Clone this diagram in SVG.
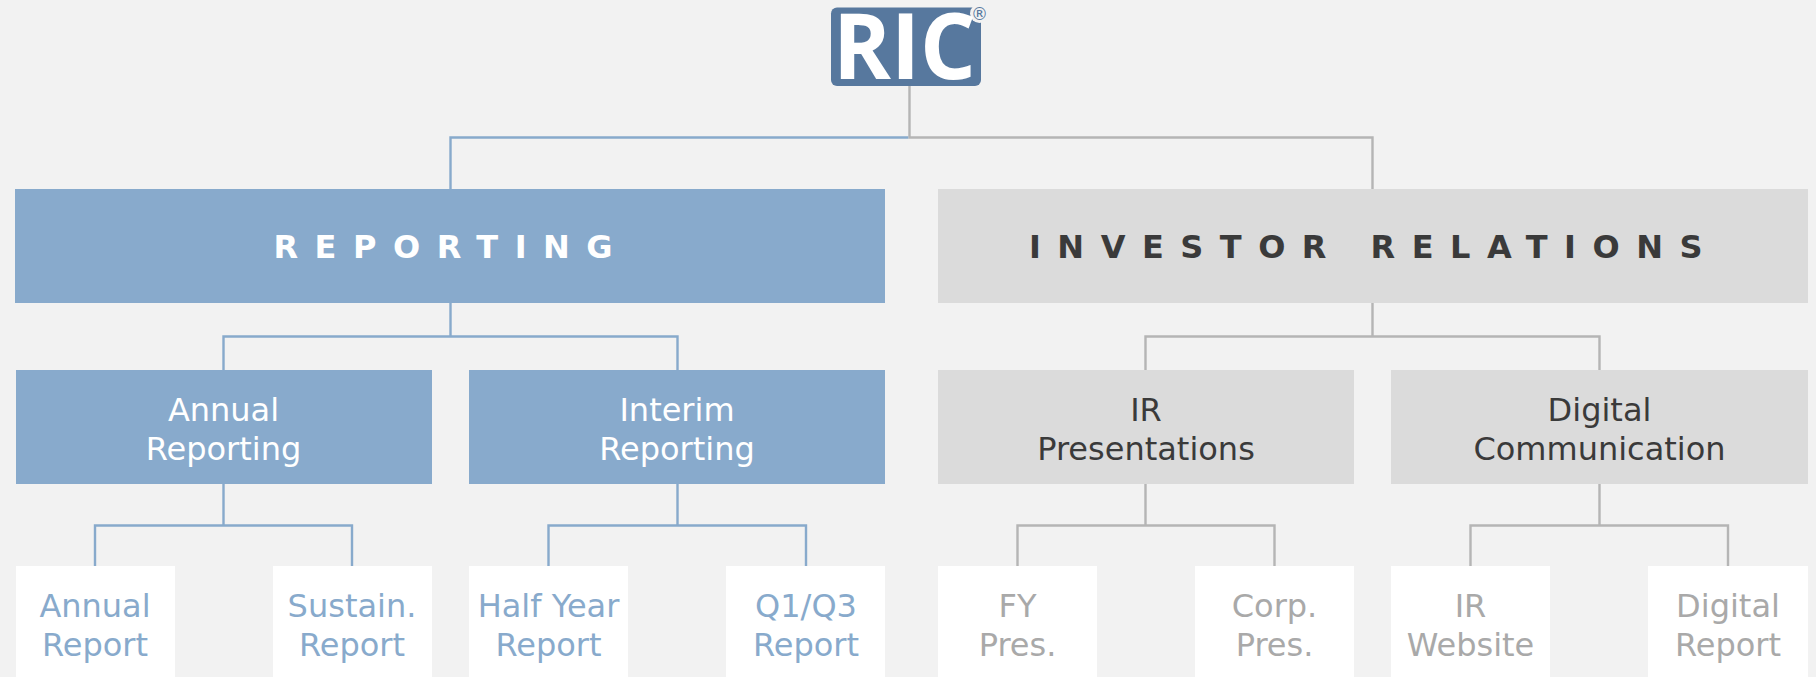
<svg xmlns="http://www.w3.org/2000/svg" width="1816" height="677" viewBox="0 0 1816 677">
<style>
text{font-family:"DejaVu Sans",Verdana,sans-serif;text-anchor:middle;font-size:32px}
.c{fill:none;stroke-width:2.4}
.cb{stroke:#88aacc}.cg{stroke:#b5b5b5}
.b{fill:#88aacc}.g{fill:#dbdbdb}.w{fill:#fff}
.tw{fill:#fff}.td{fill:#3a3a3a}.tb{fill:#88aacc}.tg{fill:#a9a9a9}
.h{font-weight:bold;letter-spacing:16.5px}
</style>
<rect width="1816" height="677" fill="#f2f2f2"/>
<g id="connectors">
<path class="c cg" d="M909.500 86V137.500H1372.500V189"/>
<path class="c cb" d="M908.300 137.500H450.500V189"/>
<path class="c cb" d="M450.500 303V336.500H223.500V370M450.500 336.500H677.500V370"/>
<path class="c cg" d="M1372.500 303V336.500H1145.500V370M1372.500 336.500H1599.500V370"/>
<path class="c cb" d="M223.500 484V525.500H95V566M223.500 525.500H352V566"/>
<path class="c cb" d="M677.500 484V525.500H548.500V566M677.500 525.500H806V566"/>
<path class="c cg" d="M1145.500 484V525.500H1017.500V566M1145.500 525.500H1274.500V566"/>
<path class="c cg" d="M1599.500 484V525.500H1470.500V566M1599.500 525.500H1728V566"/>
</g>
<g id="logo">
<rect x="831" y="7.500" width="150" height="78.500" rx="6" fill="#57789e"/>
<circle cx="979.500" cy="13.500" r="9.500" fill="#f2f2f2"/>
<text x="904.500" y="79" textLength="143" lengthAdjust="spacingAndGlyphs" style="font-family:'Open Sans',sans-serif;font-weight:700;font-size:91px;fill:#fff">RIC</text>
<text x="979.500" y="20" style="font-size:17px;fill:#57789e">®</text>
</g>
<g id="reporting"><rect class="b" x="15" y="189" width="870" height="114"/><text class="h tw" x="451.300" y="257.500">REPORTING</text></g>
<g id="investor-relations"><rect class="g" x="938" y="189" width="870" height="114"/><text class="h td" x="1374" y="257.500">INVESTOR RELATIONS</text></g>
<g id="annual-reporting"><rect class="b" x="16" y="370" width="416" height="114"/><text class="tw" x="223.500" y="421">Annual</text><text class="tw" x="223.500" y="459.500">Reporting</text></g>
<g id="interim-reporting"><rect class="b" x="469" y="370" width="416" height="114"/><text class="tw" x="677" y="421">Interim</text><text class="tw" x="677" y="459.500">Reporting</text></g>
<g id="ir-presentations"><rect class="g" x="938" y="370" width="416" height="114"/><text class="td" x="1146" y="421">IR</text><text class="td" x="1146" y="459.500">Presentations</text></g>
<g id="digital-communication"><rect class="g" x="1391" y="370" width="417" height="114"/><text class="td" x="1599.500" y="421">Digital</text><text class="td" x="1599.500" y="459.500">Communication</text></g>
<g id="annual-report"><rect class="w" x="16" y="566" width="159" height="111"/><text class="tb" x="95" y="617">Annual</text><text class="tb" x="95" y="655.500">Report</text></g>
<g id="sustain-report"><rect class="w" x="273" y="566" width="159" height="111"/><text class="tb" x="352" y="617">Sustain.</text><text class="tb" x="352" y="655.500">Report</text></g>
<g id="half-year-report"><rect class="w" x="469" y="566" width="159" height="111"/><text class="tb" x="548.500" y="617">Half Year</text><text class="tb" x="548.500" y="655.500">Report</text></g>
<g id="q1q3-report"><rect class="w" x="726" y="566" width="159" height="111"/><text class="tb" x="806" y="617">Q1/Q3</text><text class="tb" x="806" y="655.500">Report</text></g>
<g id="fy-pres"><rect class="w" x="938" y="566" width="159" height="111"/><text class="tg" x="1017.500" y="617">FY</text><text class="tg" x="1017.500" y="655.500">Pres.</text></g>
<g id="corp-pres"><rect class="w" x="1195" y="566" width="159" height="111"/><text class="tg" x="1274.500" y="617">Corp.</text><text class="tg" x="1274.500" y="655.500">Pres.</text></g>
<g id="ir-website"><rect class="w" x="1391" y="566" width="159" height="111"/><text class="tg" x="1470.500" y="617">IR</text><text class="tg" x="1470.500" y="655.500">Website</text></g>
<g id="digital-report"><rect class="w" x="1648" y="566" width="160" height="111"/><text class="tg" x="1728" y="617">Digital</text><text class="tg" x="1728" y="655.500">Report</text></g>
</svg>
